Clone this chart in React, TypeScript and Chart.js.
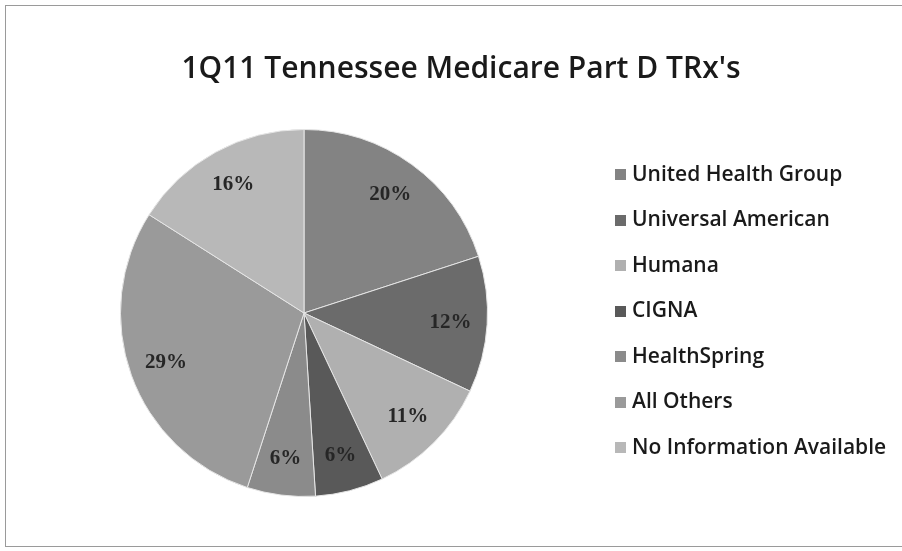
import React, { useEffect, useRef } from "react";
import { Chart, registerables } from "chart.js";

Chart.register(...registerables);

const chartTitle = "1Q11 Tennessee Medicare Part D TRx's";
const categories = [
  "United Health Group",
  "Universal American",
  "Humana",
  "CIGNA",
  "HealthSpring",
  "All Others",
  "No Information Available",
];
const shares = [20, 12, 11, 6, 6, 29, 16];
const sliceColors = ["#838383", "#6b6b6b", "#b0b0b0", "#595959", "#8b8b8b", "#9a9a9a", "#b8b8b8"];

const framePlugin = {
  id: "frame",
  beforeDraw(chart: any) {
    const ctx = chart.ctx;
    ctx.save();
    ctx.fillStyle = "#ffffff";
    ctx.fillRect(0, 0, chart.width, chart.height);
    ctx.strokeStyle = "#9a9a9a";
    ctx.lineWidth = 1;
    ctx.strokeRect(5.5, 5.5, chart.width + 10, chart.height - 10);
    ctx.restore();
  },
};

const pctLabelPlugin = {
  id: "pctLabels",
  afterDatasetsDraw(chart: any) {
    const ctx = chart.ctx;
    const meta = chart.getDatasetMeta(0);
    ctx.save();
    ctx.font = "bold 21px 'Liberation Serif'";
    ctx.fillStyle = "#262626";
    ctx.textAlign = "center";
    ctx.textBaseline = "middle";
    meta.data.forEach((arc: any, i: number) => {
      const p = arc.getProps(["x", "y", "startAngle", "endAngle", "outerRadius"], true);
      const mid = (p.startAngle + p.endAngle) / 2;
      const r = p.outerRadius * 0.8;
      ctx.fillText(shares[i] + "%", p.x + Math.cos(mid) * r, p.y + Math.sin(mid) * r);
    });
    ctx.restore();
  },
};

const titleLegendPlugin = {
  id: "titleLegend",
  afterDraw(chart: any) {
    const ctx = chart.ctx;
    ctx.save();
    ctx.fillStyle = "#1a1a1a";
    ctx.font = "600 30px 'Open Sans'";
    ctx.textAlign = "center";
    ctx.textBaseline = "alphabetic";
    ctx.fillText(chartTitle, 461, 78);

    ctx.font = "600 21px 'Open Sans'";
    ctx.textAlign = "left";
    ctx.textBaseline = "middle";
    const labels = chart.data.labels as string[];
    const bg = chart.data.datasets[0].backgroundColor as string[];
    labels.forEach((lab, i) => {
      const y = 175 + i * 45.5;
      ctx.fillStyle = bg[i];
      ctx.fillRect(615, Math.round(y - 6), 11, 11);
      ctx.fillStyle = "#1a1a1a";
      ctx.fillText(lab, 632, y);
    });
    ctx.restore();
  },
};

export default function App() {
  const ref = useRef<HTMLCanvasElement | null>(null);
  useEffect(() => {
    if (!ref.current) return;
    const chart = new Chart(ref.current, {
      type: "pie",
      data: {
        labels: categories,
        datasets: [
          {
            data: shares,
            backgroundColor: sliceColors,
            borderColor: "#e6e6e6",
            borderWidth: 1,
          },
        ],
      },
      options: {
        responsive: false,
        animation: false,
        layout: { padding: { left: 120, right: 414, top: 129, bottom: 54 } },
        plugins: {
          legend: { display: false },
          title: { display: false },
          tooltip: { enabled: false },
        },
      },
      plugins: [framePlugin, pctLabelPlugin, titleLegendPlugin],
    });
    return () => chart.destroy();
  }, []);
  return (
    <div style={{ position: "fixed", left: 0, top: 0, width: 902, height: 551 }}>
      <canvas ref={ref} width={902} height={551} style={{ display: "block" }} />
    </div>
  );
}
